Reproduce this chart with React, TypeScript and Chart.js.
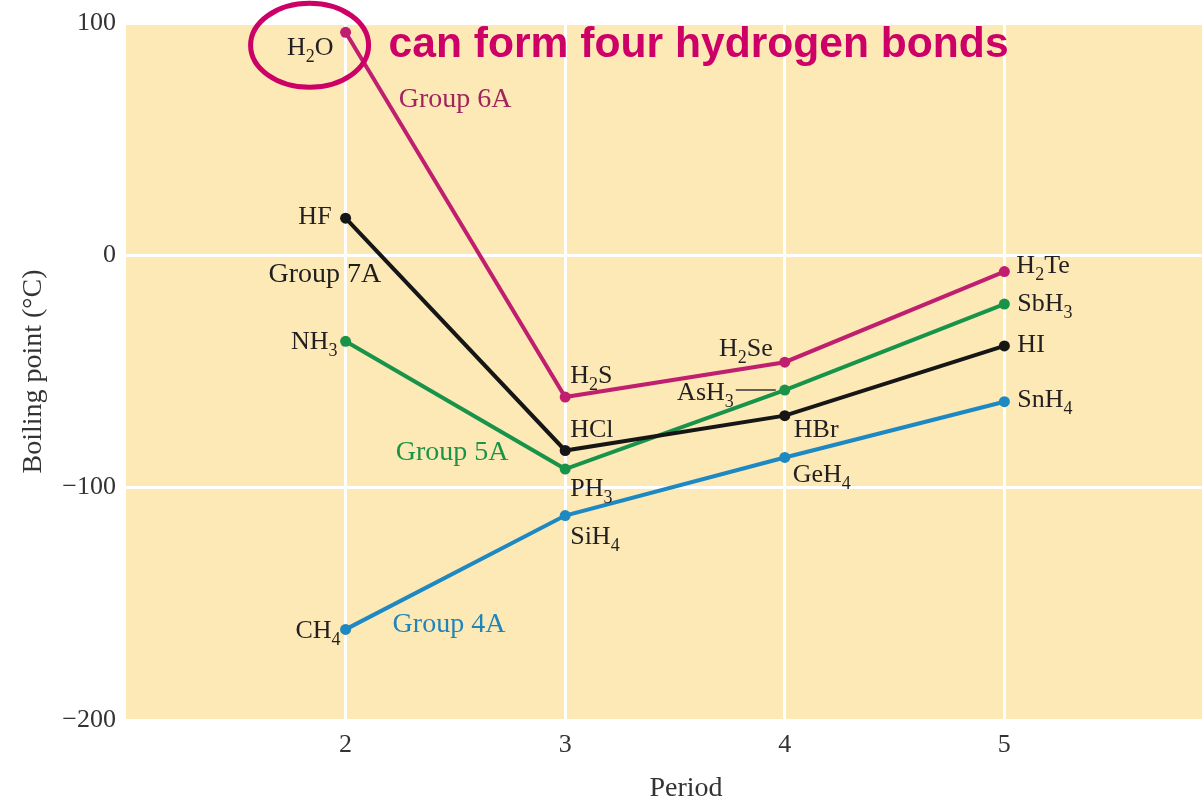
import React, { useEffect, useRef } from 'react';
import { Chart, registerables } from 'chart.js';

Chart.register(...registerables);

// ---- data ----
const periods = [2, 3, 4, 5];
const group6A = [96, -61, -46, -7];
const group7A = [16, -84, -69, -39];
const group5A = [-37, -92, -58, -21];
const group4A = [-161, -112, -87, -63];

const names6A = ['H_2O', 'H_2S', 'H_2Se', 'H_2Te'];
const names7A = ['HF', 'HCl', 'HBr', 'HI'];
const names5A = ['NH_3', 'PH_3', 'AsH_3', 'SbH_3'];
const names4A = ['CH_4', 'SiH_4', 'GeH_4', 'SnH_4'];

const groupNames = ['Group 6A', 'Group 7A', 'Group 5A', 'Group 4A'];
// group label anchor (data units: period, °C) – left/baseline
const groupLabelX = [2.242, 1.649, 2.228, 2.214];
const groupLabelY = [63.9, -11.4, -88, -162];

const xTicks = [2, 3, 4, 5];
const yTicks = [100, 0, -100, -200];

const xTitle = 'Period';
const yTitle = 'Boiling point (°C)';
const noteText = 'can form four hydrogen bonds';

// ---- styles ----
const lineColors = ['#C01F6F', '#161616', '#17944A', '#1D88C2'];
const groupTextColors = ['#A2245E', '#1E1E1E', '#1A9448', '#1F84B9'];
const bgColor = '#FCE9B6';
const textColor = '#231F20';
const accent = '#CC0066';
const serif = "'Liberation Serif', 'DejaVu Serif', serif";

// label offsets [dx, dyBaseline, align]
type Off = [number, number, 'left' | 'right'];
const labelOffsets: Off[][] = [
  [[-12, 23, 'right'], [5, -14, 'left'], [-12, -6, 'right'], [12, 1, 'left']],
  [[-14, 6, 'right'], [5, -13, 'left'], [9, 21, 'left'], [13, 6, 'left']],
  [[-8, 8, 'right'], [5, 27, 'left'], [-51, 10, 'right'], [13, 7, 'left']],
  [[-5, 9, 'right'], [5, 28, 'left'], [8, 25, 'left'], [13, 5, 'left']],
];

function parseFormula(s: string) {
  const parts: { t: string; sub: boolean }[] = [];
  const re = /_(\d+)/g;
  let last = 0;
  let m: RegExpExecArray | null;
  while ((m = re.exec(s))) {
    if (m.index > last) parts.push({ t: s.slice(last, m.index), sub: false });
    parts.push({ t: m[1], sub: true });
    last = m.index + m[0].length;
  }
  if (last < s.length) parts.push({ t: s.slice(last), sub: false });
  return parts;
}

function drawRich(ctx: CanvasRenderingContext2D, s: string, x: number, y: number, align: 'left' | 'right', color: string) {
  const parts = parseFormula(s);
  const mainFont = `26px ${serif}`;
  const subFont = `18px ${serif}`;
  let w = 0;
  for (const p of parts) {
    ctx.font = p.sub ? subFont : mainFont;
    w += ctx.measureText(p.t).width;
  }
  let cx = align === 'right' ? x - w : x;
  ctx.fillStyle = color;
  ctx.textAlign = 'left';
  ctx.textBaseline = 'alphabetic';
  for (const p of parts) {
    ctx.font = p.sub ? subFont : mainFont;
    ctx.fillText(p.t, cx, p.sub ? y + 7 : y);
    cx += ctx.measureText(p.t).width;
  }
}

const series = [group6A, group7A, group5A, group4A];
const names = [names6A, names7A, names5A, names4A];

const bgPlugin = {
  id: 'bgPlugin',
  beforeDraw(chart: any) {
    const { ctx, chartArea } = chart;
    ctx.save();
    ctx.fillStyle = bgColor;
    ctx.fillRect(chartArea.left, chartArea.top, chartArea.right - chartArea.left, chartArea.bottom - chartArea.top);
    ctx.restore();
  },
};

const labelPlugin = {
  id: 'labelPlugin',
  afterDatasetsDraw(chart: any) {
    const { ctx, scales, chartArea } = chart;
    ctx.save();
    // point labels
    series.forEach((_, si) => {
      const meta = chart.getDatasetMeta(si);
      meta.data.forEach((pt: any, i: number) => {
        const [dx, dy, align] = labelOffsets[si][i];
        drawRich(ctx, names[si][i], pt.x + dx, pt.y + dy, align, textColor);
        if (names[si][i] === 'AsH_3') {
          ctx.strokeStyle = '#333';
          ctx.lineWidth = 1.5;
          ctx.beginPath();
          ctx.moveTo(pt.x + dx + 2, pt.y);
          ctx.lineTo(pt.x - 9, pt.y);
          ctx.stroke();
        }
      });
    });
    // group labels
    groupNames.forEach((g, i) => {
      ctx.font = `28px ${serif}`;
      ctx.fillStyle = groupTextColors[i];
      ctx.textAlign = 'left';
      ctx.textBaseline = 'alphabetic';
      ctx.fillText(g, scales.x.getPixelForValue(groupLabelX[i]), scales.y.getPixelForValue(groupLabelY[i]));
    });
    // annotation for H2O
    const h2o = chart.getDatasetMeta(0).data[0];
    ctx.strokeStyle = accent;
    ctx.lineWidth = 5;
    ctx.beginPath();
    ctx.ellipse(h2o.x - 36, h2o.y + 13, 59, 42, 0, 0, Math.PI * 2);
    ctx.stroke();
    ctx.font = `bold 42.6px 'Liberation Sans', Arial, sans-serif`;
    ctx.fillStyle = accent;
    ctx.textAlign = 'left';
    ctx.fillText(noteText, h2o.x + 43, h2o.y + 25);
    // x axis title
    ctx.font = `28px ${serif}`;
    ctx.fillStyle = '#333';
    ctx.textAlign = 'center';
    ctx.fillText(xTitle, scales.x.getPixelForValue(3.55), chartArea.bottom + 76);
    ctx.restore();
  },
};

export default function App() {
  const ref = useRef<HTMLCanvasElement | null>(null);
  useEffect(() => {
    if (!ref.current) return;
    const chart = new Chart(ref.current, {
      type: 'line',
      data: {
        datasets: series.map((s, i) => ({
          label: groupNames[i],
          data: s.map((v, j) => ({ x: periods[j], y: v })),
          borderColor: lineColors[i],
          backgroundColor: lineColors[i],
          pointBackgroundColor: lineColors[i],
          pointBorderWidth: 0,
          pointRadius: 5.5,
          borderWidth: 4,
          tension: 0,
          fill: false,
        })),
      },
      options: {
        animation: false,
        responsive: true,
        maintainAspectRatio: false,
        layout: { autoPadding: false, padding: { top: 23, right: 0, left: 0, bottom: 0 } },
        plugins: { legend: { display: false }, tooltip: { enabled: false } },
        scales: {
          x: {
            type: 'linear',
            min: 1,
            max: 5.9,
            afterBuildTicks: (scale: any) => {
              scale.ticks = xTicks.map((v) => ({ value: v }));
            },
            afterFit: (scale: any) => {
              scale.height = 80;
              scale.paddingLeft = 0;
              scale.paddingRight = 0;
            },
            grid: { color: '#FFFFFF', lineWidth: 3, drawTicks: false },
            border: { display: false },
            ticks: {
              padding: 10,
              color: '#333',
              font: { family: serif, size: 26 },
              callback: (v: any) => String(v),
            },
          },
          y: {
            type: 'linear',
            min: -200,
            max: 100,
            afterBuildTicks: (scale: any) => {
              scale.ticks = yTicks.map((v) => ({ value: v }));
            },
            afterFit: (scale: any) => {
              scale.width = 126;
              scale.paddingTop = 0;
              scale.paddingBottom = 0;
            },
            grid: { color: '#FFFFFF', lineWidth: 3, drawTicks: false },
            border: { display: false },
            ticks: {
              padding: 10,
              color: '#333',
              font: { family: serif, size: 26 },
              callback: (v: any) => (Number(v) < 0 ? '\u2212' + Math.abs(Number(v)) : String(v)),
            },
            title: {
              display: true,
              text: yTitle,
              color: '#333',
              font: { family: serif, size: 28 },
              padding: { top: 17, bottom: 0 },
            },
          },
        },
      },
      plugins: [bgPlugin, labelPlugin],
    });
    return () => chart.destroy();
  }, []);
  return (
    <div style={{ position: 'absolute', left: 0, top: 0, width: 1202, height: 800, background: '#fff' }}>
      <canvas ref={ref} />
    </div>
  );
}
